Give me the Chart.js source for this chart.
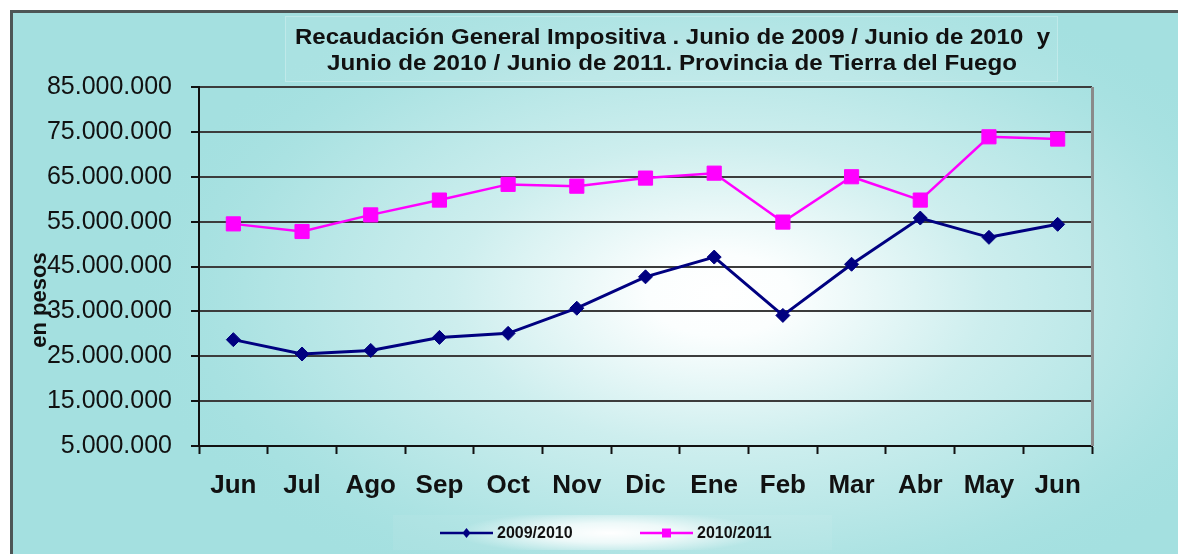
<!DOCTYPE html>
<html>
<head>
<meta charset="utf-8">
<script src="https://cdn.jsdelivr.net/npm/chart.js@4.4.1/dist/chart.umd.min.js"></script>
<style>
  html, body { margin: 0; padding: 0; background: #fff; }
  #wrap { width: 1178px; height: 554px; }
</style>
</head>
<body>
<div id="wrap"><canvas id="chart" width="1178" height="554"></canvas></div>
<script>
const MONTHS = ['Jun', 'Jul', 'Ago', 'Sep', 'Oct', 'Nov', 'Dic', 'Ene', 'Feb', 'Mar', 'Abr', 'May', 'Jun'];

const SERIES_2009_2010 = [28700000, 25500000, 26300000, 29200000, 30100000, 35700000, 42700000,
  47100000, 34100000, 45500000, 55800000, 51500000, 54400000];

const SERIES_2010_2011 = [54500000, 52800000, 56500000, 59800000, 63300000, 62900000, 64700000,
  65800000, 54900000, 65000000, 59800000, 73900000, 73400000];

const Y_MIN = 5000000;
const Y_MAX = 85000000;
const Y_STEP = 10000000;

const TITLE_LINES = [
  'Recaudación General Impositiva . Junio de 2009 / Junio de 2010  y',
  'Junio de 2010 / Junio de 2011. Provincia de Tierra del Fuego'
];
const Y_TITLE = 'en pesos';
const SERIES_LABELS = ['2009/2010', '2010/2011'];

const COLORS = {
  navy: '#000080',
  magenta: '#ff00ff',
  grid: '#3c3c3c',
  text: '#111111'
};

function fmtPesos(v) {
  return String(Math.round(v)).replace(/\B(?=(\d{3})+(?!\d))/g, '.');
}

// fondo, recuadro, titulo y leyenda
const decorPlugin = {
  id: 'decor',
  beforeDraw(chart) {
    const ctx = chart.ctx;
    const W = chart.width, H = chart.height;
    ctx.save();
    ctx.fillStyle = '#ffffff';
    ctx.fillRect(0, 0, W, H);

    ctx.save();
    ctx.beginPath();
    ctx.rect(10, 10, W - 10, H - 10);
    ctx.clip();
    ctx.fillStyle = '#a4e0e0';
    ctx.fillRect(10, 10, W - 10, H - 10);
    ctx.translate(720, 295);
    ctx.scale(1.75, 1);
    const g = ctx.createRadialGradient(0, 0, 0, 0, 0, 340);
    g.addColorStop(0, '#ffffff');
    g.addColorStop(0.12, '#fbfefe');
    g.addColorStop(0.45, '#cdeeee');
    g.addColorStop(0.8, '#ade3e3');
    g.addColorStop(1, 'rgba(164,224,224,0)');
    ctx.fillStyle = g;
    ctx.fillRect(-400, -300, 800, 600);
    ctx.restore();

    // marco exterior
    ctx.strokeStyle = '#4d5656';
    ctx.lineWidth = 3;
    ctx.beginPath();
    ctx.moveTo(11.5, H);
    ctx.lineTo(11.5, 11.5);
    ctx.lineTo(W, 11.5);
    ctx.stroke();

    // caja del titulo
    ctx.fillStyle = 'rgba(255,255,255,0.07)';
    ctx.fillRect(285, 16, 773, 66);
    ctx.strokeStyle = 'rgba(255,255,255,0.25)';
    ctx.lineWidth = 1;
    ctx.strokeRect(285.5, 16.5, 772, 65);

    // caja de la leyenda
    ctx.fillStyle = 'rgba(255,255,255,0.06)';
    ctx.fillRect(393, 515, 439, 35);
    ctx.save();
    ctx.beginPath();
    ctx.rect(393, 515, 439, 35);
    ctx.clip();
    ctx.translate(610, 533);
    ctx.scale(7, 1);
    const lg = ctx.createRadialGradient(0, 0, 0, 0, 0, 22);
    lg.addColorStop(0, 'rgba(255,255,255,1)');
    lg.addColorStop(0.45, 'rgba(255,255,255,0.75)');
    lg.addColorStop(1, 'rgba(255,255,255,0)');
    ctx.fillStyle = lg;
    ctx.fillRect(-40, -20, 80, 40);
    ctx.restore();
    ctx.restore();
  },
  afterDatasetsDraw(chart) {
    const ctx = chart.ctx;
    const area = chart.chartArea;
    ctx.save();

    // borde derecho gris del area de trazado
    ctx.strokeStyle = '#8a8a8a';
    ctx.lineWidth = 3;
    ctx.beginPath();
    ctx.moveTo(area.right + 0.5, area.top);
    ctx.lineTo(area.right + 0.5, area.bottom);
    ctx.stroke();

    // titulo
    ctx.fillStyle = COLORS.text;
    ctx.textBaseline = 'alphabetic';
    ctx.textAlign = 'left';
    const titleSpecs = [
      { text: TITLE_LINES[0], x: 295, w: 755, y: 44 },
      { text: TITLE_LINES[1], x: 327, w: 690, y: 70 }
    ];
    ctx.font = "bold 22px 'Liberation Sans', Arial, sans-serif";
    titleSpecs.forEach(t => {
      const m = ctx.measureText(t.text).width;
      ctx.save();
      ctx.translate(t.x, t.y);
      ctx.scale(t.w / m, 1);
      ctx.fillText(t.text, 0, 0);
      ctx.restore();
    });

    // titulo del eje Y
    ctx.save();
    ctx.translate(46, 300);
    ctx.rotate(-Math.PI / 2);
    ctx.textAlign = 'center';
    ctx.font = "bold 22px 'Liberation Sans', Arial, sans-serif";
    ctx.fillText(Y_TITLE, 0, 0);
    ctx.restore();

    // leyenda
    const items = [
      { label: SERIES_LABELS[0], color: COLORS.navy, x0: 440, style: 'diamond' },
      { label: SERIES_LABELS[1], color: COLORS.magenta, x0: 640, style: 'square' }
    ];
    const ly = 533;
    ctx.font = "bold 16px 'Liberation Sans', Arial, sans-serif";
    items.forEach(it => {
      ctx.strokeStyle = it.color;
      ctx.fillStyle = it.color;
      ctx.lineWidth = 2.5;
      ctx.beginPath();
      ctx.moveTo(it.x0, ly);
      ctx.lineTo(it.x0 + 53, ly);
      ctx.stroke();
      const cx = it.x0 + 26.5;
      if (it.style === 'diamond') {
        ctx.beginPath();
        ctx.moveTo(cx, ly - 5);
        ctx.lineTo(cx + 4, ly);
        ctx.lineTo(cx, ly + 5);
        ctx.lineTo(cx - 4, ly);
        ctx.closePath();
        ctx.fill();
      } else {
        ctx.fillRect(cx - 4.5, ly - 4.5, 9, 9);
      }
      ctx.fillStyle = COLORS.text;
      ctx.textAlign = 'left';
      ctx.textBaseline = 'middle';
      ctx.fillText(it.label, it.x0 + 57, ly + 1);
    });
    ctx.restore();
  }
};

const ctx = document.getElementById('chart').getContext('2d');
new Chart(ctx, {
  type: 'line',
  data: {
    labels: MONTHS,
    datasets: [
      {
        label: SERIES_LABELS[0],
        data: SERIES_2009_2010,
        borderColor: COLORS.navy,
        backgroundColor: COLORS.navy,
        borderWidth: 3,
        pointStyle: 'rectRot',
        pointRadius: 7,
        pointBorderWidth: 1,
        tension: 0
      },
      {
        label: SERIES_LABELS[1],
        data: SERIES_2010_2011,
        borderColor: COLORS.magenta,
        backgroundColor: COLORS.magenta,
        borderWidth: 2.5,
        pointStyle: 'rect',
        pointRadius: 10,
        pointBorderWidth: 1,
        tension: 0
      }
    ]
  },
  options: {
    responsive: false,
    animation: false,
    layout: { padding: { left: 0, top: 87, right: 86, bottom: 48 } },
    plugins: {
      legend: { display: false },
      title: { display: false },
      tooltip: { enabled: false }
    },
    scales: {
      x: {
        offset: true,
        afterFit: (scale) => { scale.height = 60; },
        grid: {
          offset: true,
          drawOnChartArea: false,
          drawTicks: true,
          tickLength: 8,
          tickWidth: 2,
          tickColor: '#111111'
        },
        border: { color: '#111111', width: 2 },
        ticks: {
          color: COLORS.text,
          padding: 16,
          maxRotation: 0,
          autoSkip: false,
          font: { family: "'Liberation Sans', Arial, sans-serif", size: 26, weight: 'bold' }
        }
      },
      y: {
        min: Y_MIN,
        max: Y_MAX,
        afterFit: (scale) => { scale.width = 199; },
        grid: {
          color: COLORS.grid,
          lineWidth: 2,
          drawTicks: true,
          tickLength: 8,
          tickColor: '#111111'
        },
        border: { color: '#111111', width: 2 },
        ticks: {
          stepSize: Y_STEP,
          color: COLORS.text,
          padding: 19,
          callback: (v) => fmtPesos(v),
          font: { family: "'Liberation Sans', Arial, sans-serif", size: 25 }
        }
      }
    }
  },
  plugins: [decorPlugin]
});
</script>
</body>
</html>
